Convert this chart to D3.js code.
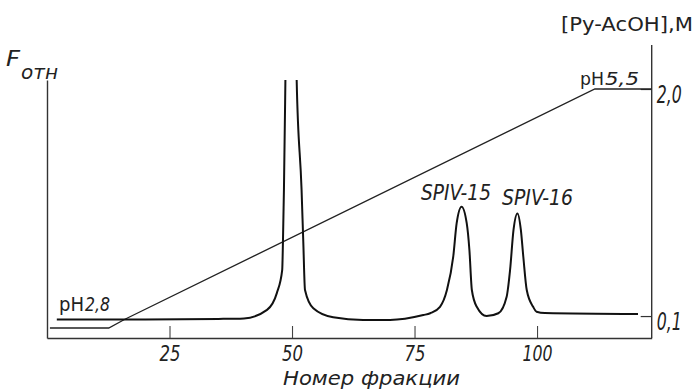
<!DOCTYPE html>
<html>
<head>
<meta charset="utf-8">
<script src="https://cdn.jsdelivr.net/npm/d3@7"></script>
<style>
  body { margin: 0; background: #fff; }
  svg { display: block; }
  text { font-family: "DejaVu Sans", sans-serif; fill: #222; }
</style>
</head>
<body>
<svg id="chart" width="697" height="389"></svg>
<script>
// fraction numbers and relative fluorescence
let fractions = [2, 20, 35, 40.2, 44.9, 46.9, 48.0, 48.15, 48.35, 48.65, 49.8, 50.95,
    51.95, 52.3, 52.65, 54.35, 58.4, 64.5, 70, 76.8, 78.2, 80.2, 81.6, 82.9, 83.6, 84.6,
    85.65, 86.2, 86.7, 87.7, 89.7, 92.1, 93.8, 94.5, 95.2, 96.0, 96.7, 97.2, 97.9, 99.2,
    99.9, 101.6, 120.6];
let fluorescence = [7.2, 7.2, 7.4, 7.6, 10.9, 17.4, 26.4, 37.3, 57.4, 100, 300, 100,
    57.4, 37.3, 18.6, 11.5, 8.0, 7.0, 7.0, 8.9, 9.6, 12.1, 18.5, 31.5, 44.5, 50.9,
    44.5, 34.1, 18.6, 12.1, 8.5, 9.6, 16.0, 26.4, 41.9, 48.3, 41.9, 31.5, 18.6, 12.1,
    10.2, 9.7, 9.3];

// Py-AcOH gradient, M
let gradFractions = [0.6, 12.6, 15.9, 111.8, 123.4];
let gradConc = [0, 0, 0.073, 2.0, 2.0];

let xTicks = [25, 50, 75, 100];
let concTicks = [0.1, 2.0];
let concTickLabels = ['0,1', '2,0'];

let svg = d3.select('#chart');

//scales
let x = d3.scaleLinear().domain([0, 123.4]).range([47, 651.7]);
let yF = d3.scaleLinear().domain([0, 100]).range([338, 80]);
let yConc = d3.scaleLinear().domain([0, 2]).range([328, 89]);

//clip so the big peak runs off the top
svg.append('clipPath').attr('id', 'plotClip')
    .append('rect').attr('x', 40).attr('y', 80).attr('width', 620).attr('height', 270);

//bottom axis, ticks pointing up into the plot
let xAxis = svg.append('g')
    .attr('transform', 'translate(0,338)')
    .call(d3.axisBottom(x).tickValues(xTicks).tickSizeInner(-12).tickSizeOuter(0).tickPadding(8));
xAxis.select('.domain').attr('stroke', '#333').attr('stroke-width', 1.4);
xAxis.selectAll('.tick line').attr('stroke', '#444').attr('stroke-width', 1.1);
xAxis.selectAll('.tick text')
    .attr('fill', '#222')
    .style('font-size', '21px').style('font-style', 'italic')
    .style('font-family', '"DejaVu Sans", sans-serif')
    .attr('textLength', d => d >= 100 ? 30 : 21)
    .attr('lengthAdjust', 'spacingAndGlyphs');

//left axis, no ticks
let yAxis = svg.append('g')
    .attr('transform', 'translate(47,0)')
    .call(d3.axisLeft(yF).tickValues([]).tickSizeOuter(0));
yAxis.select('.domain').attr('stroke', '#333').attr('stroke-width', 1.4);

//right axis for the gradient
let rightX = x(123.4);
svg.append('line')
    .attr('x1', rightX).attr('x2', rightX)
    .attr('y1', 45).attr('y2', 338)
    .attr('stroke', '#333').attr('stroke-width', 1.4);
let concAxis = svg.append('g')
    .attr('transform', 'translate(' + rightX + ',0)')
    .call(d3.axisRight(yConc).tickValues(concTicks).tickSizeInner(-11).tickSizeOuter(0).tickPadding(5)
        .tickFormat((d, i) => concTickLabels[i]));
concAxis.select('.domain').remove();
concAxis.selectAll('.tick line').attr('stroke', '#333').attr('stroke-width', 1.2);
concAxis.selectAll('.tick text')
    .attr('fill', '#222')
    .attr('dy', '0.55em')
    .style('font-size', '24px').style('font-style', 'italic')
    .style('font-family', '"DejaVu Sans", sans-serif')
    .attr('textLength', 25)
    .attr('lengthAdjust', 'spacingAndGlyphs');

//gradient line
let gradLine = d3.line()
    .x((d, i) => x(gradFractions[i]))
    .y(d => yConc(d));
svg.append('path')
    .datum(gradConc)
    .attr('d', gradLine)
    .attr('fill', 'none')
    .attr('stroke', '#222')
    .attr('stroke-width', 1.3);

//chromatogram trace
let traceLine = d3.line()
    .x((d, i) => x(fractions[i]))
    .y(d => yF(d))
    .curve(d3.curveMonotoneX);
svg.append('path')
    .datum(fluorescence)
    .attr('clip-path', 'url(#plotClip)')
    .attr('d', traceLine)
    .attr('fill', 'none')
    .attr('stroke', '#111')
    .attr('stroke-width', 2);

//labels
function label(txt, px, py, size, width, italic) {
    return svg.append('text')
        .attr('x', px).attr('y', py)
        .style('font-size', size + 'px')
        .style('font-style', italic ? 'italic' : 'normal')
        .attr('textLength', width)
        .attr('lengthAdjust', 'spacingAndGlyphs')
        .text(txt);
}

label('F', 6, 66, 22, 14, true);
label('отн', 21, 79, 19, 37, true);
label('[Py-AcOH],M', 561, 31, 20, 132, false);
label('SPIV-15', 421, 200, 22, 70, true);
label('SPIV-16', 502, 205, 22, 71, true);
label('Номер  фракции', 283, 385, 19, 177, true);

label('pH', 59, 311, 20, 25, false);
label('2,8', 85, 311, 20, 25, true);
label('pH', 580, 85, 18, 24, false);
label('5,5', 605, 85, 17, 34, true);
</script>
</body>
</html>
